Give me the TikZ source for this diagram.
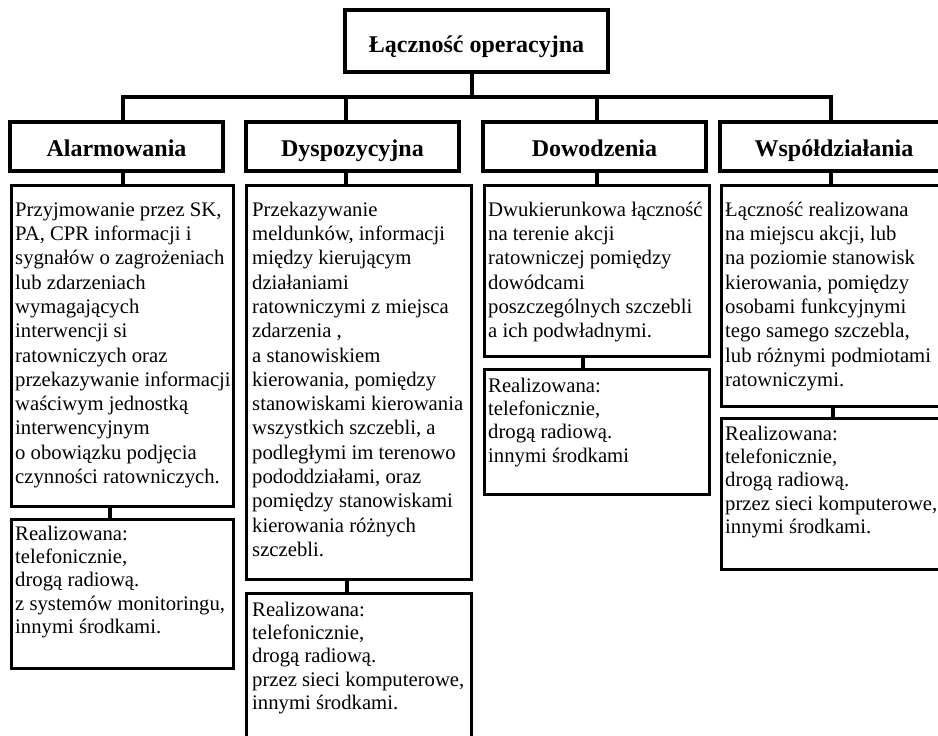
\documentclass[tikz,border=0pt]{standalone}
\usepackage{fontspec}
\setmainfont{Liberation Serif}
\newcommand\firststrut{\rule{0pt}{15pt}}
\begin{document}
\begin{tikzpicture}[x=1pt,y=-1pt,
  conn/.style={draw, line width=3.2pt},
  box/.style={draw, line width=3.2pt, anchor=north west, inner sep=0pt},
  head/.style={draw, line width=3.2pt, inner sep=0pt, font=\bfseries\fontsize{24}{28}\selectfont, text height=20pt, text depth=0pt},
  txt/.style={anchor=north west, inner sep=0pt, align=left, font=\fontsize{20.7}{#1}\selectfont}]
\useasboundingbox[fill=white] (0,0) rectangle (938,736);

% title
\node[head, minimum width=263pt, minimum height=62pt, text height=22pt] (title) at (476.5,41) {Łączność operacyjna};

% headers
\node[head, minimum width=213pt, minimum height=49pt] (h1) at (116.5,146.5) {Alarmowania};
\node[head, minimum width=213pt, minimum height=49pt] (h2) at (352.5,146.5) {Dyspozycyjna};
\node[head, minimum width=223pt, minimum height=49pt] (h3) at (594.5,146.5) {Dowodzenia};
\node[head, minimum width=228pt, minimum height=49pt] (h4) at (834,146.5) {Współdziałania};

% description boxes
\node[box, minimum width=222pt, minimum height=321pt] (t1) at (10,184) {};
\node[box, minimum width=222pt, minimum height=149pt] (r1) at (10,518) {};
\node[box, minimum width=225pt, minimum height=394pt] (t2) at (245,184) {};
\node[box, minimum width=225pt, minimum height=170pt] (r2) at (245,592) {};
\node[box, minimum width=225pt, minimum height=171pt] (t3) at (483,184) {};
\node[box, minimum width=225pt, minimum height=125pt] (r3) at (483,368) {};
\node[box, minimum width=240pt, minimum height=221pt] (t4) at (720,184) {};
\node[box, minimum width=240pt, minimum height=151pt] (r4) at (720,417) {};

% texts
\node[txt=24.3] (t1x) at ([shift={(5,17)}]t1.north west) {\firststrut Przyjmowanie przez SK,\\PA, CPR informacji i\\sygnałów o zagrożeniach\\lub zdarzeniach\\wymagających\\interwencji si\\ratowniczych oraz\\przekazywanie informacji\\waściwym jednostką\\interwencyjnym\\o obowiązku podjęcia\\czynności ratowniczych.};
\node[txt=23.3] (r1x) at ([shift={(5,7)}]r1.north west) {\firststrut Realizowana:\\telefonicznie,\\drogą radiową.\\z systemów monitoringu,\\innymi środkami.};
\node[txt=24.3] (t2x) at ([shift={(7,17)}]t2.north west) {\firststrut Przekazywanie\\meldunków, informacji\\między kierującym\\działaniami\\ratowniczymi z miejsca\\zdarzenia ,\\a stanowiskiem\\kierowania, pomiędzy\\stanowiskami kierowania\\wszystkich szczebli, a\\podległymi im terenowo\\pododdziałami, oraz\\pomiędzy stanowiskami\\kierowania różnych\\szczebli.};
\node[txt=23.3] (r2x) at ([shift={(7,9)}]r2.north west) {\firststrut Realizowana:\\telefonicznie,\\drogą radiową.\\przez sieci komputerowe,\\innymi środkami.};
\node[txt=24.3] (t3x) at ([shift={(5,17)}]t3.north west) {\firststrut Dwukierunkowa łączność\\na terenie akcji\\ratowniczej pomiędzy\\dowódcami\\poszczególnych szczebli\\a ich podwładnymi.};
\node[txt=23.3] (r3x) at ([shift={(5,9)}]r3.north west) {\firststrut Realizowana:\\telefonicznie,\\drogą radiową.\\innymi środkami};
\node[txt=24.3] (t4x) at ([shift={(5,17)}]t4.north west) {\firststrut Łączność realizowana\\na miejscu akcji, lub\\na poziomie stanowisk\\kierowania, pomiędzy\\osobami funkcyjnymi\\tego samego szczebla,\\lub różnymi podmiotami\\ratowniczymi.};
\node[txt=23.3] (r4x) at ([shift={(5,8)}]r4.north west) {\firststrut Realizowana:\\telefonicznie,\\drogą radiową.\\przez sieci komputerowe,\\innymi środkami.};

% connector coordinates
\coordinate (b0) at (472,97);
\coordinate (b1) at (123,97);
\coordinate (b2) at (346,97);
\coordinate (b3) at (597,97);
\coordinate (b4) at (831,97);
\coordinate (d1) at (110,0);
\coordinate (d2) at (347,0);
\coordinate (d3) at (583,0);
\coordinate (d4) at (833,0);

% connectors
\draw[conn] (title.south -| b0) -- (b0);
\draw[conn] (b1 |- h1.north) -- (b1) -- (b4) -- (b4 |- h4.north);
\draw[conn] (b2) -- (b2 |- h2.north);
\draw[conn] (b3) -- (b3 |- h3.north);
\draw[conn] (b1 |- h1.south) -- (b1 |- t1.north);
\draw[conn] (b2 |- h2.south) -- (b2 |- t2.north);
\draw[conn] (b3 |- h3.south) -- (b3 |- t3.north);
\draw[conn] (b4 |- h4.south) -- (b4 |- t4.north);
\draw[conn] (d1 |- t1.south) -- (d1 |- r1.north);
\draw[conn] (d2 |- t2.south) -- (d2 |- r2.north);
\draw[conn] (d3 |- t3.south) -- (d3 |- r3.north);
\draw[conn] (d4 |- t4.south) -- (d4 |- r4.north);
\end{tikzpicture}
\end{document}
